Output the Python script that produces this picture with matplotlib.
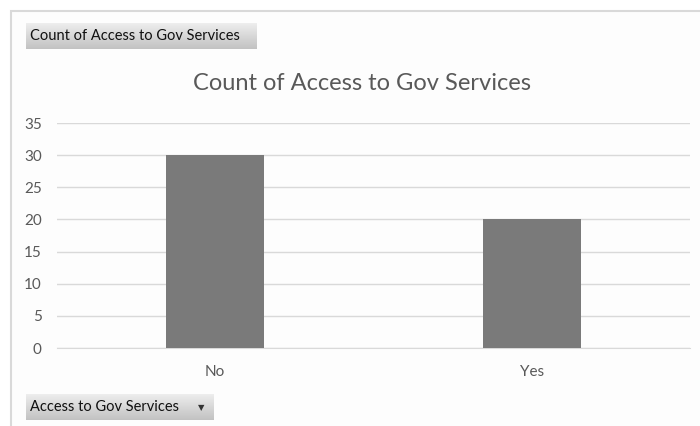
import matplotlib.pyplot as plt
import numpy as np
from matplotlib.patches import Rectangle

categories = ['No', 'Yes']
counts = [30, 20]
yticks = [0, 5, 10, 15, 20, 25, 30, 35]

plt.rcParams['font.family'] = ['Lato', 'DejaVu Sans']

W, H = 700, 426
fig = plt.figure(figsize=(W / 100, H / 100), dpi=100)
fig.patch.set_facecolor('white')


def fx(px):
    return px / W


def fy(py):
    return 1 - py / H


# chart frame
fig.patches.append(Rectangle((fx(11), fy(440)), fx(720), fy(11) - fy(440),
                             transform=fig.transFigure, fill=True, zorder=-5,
                             facecolor='#fdfdfd', edgecolor='#d9d9d9', lw=1.5))

ax = fig.add_axes([fx(57), fy(348), fx(690) - fx(57), fy(123) - fy(348)])
ax.set_facecolor('none')
x = np.arange(len(categories))
ax.bar(x, counts, width=0.31, color='#7a7a7a', zorder=3)
ax.set_xlim(-0.5, len(categories) - 0.5)
ax.set_ylim(0, 35)
ax.set_yticks(yticks)
ax.set_xticks(x)
ax.set_xticklabels(categories)
ax.grid(axis='y', color='#d9d9d9', lw=1, zorder=0)
for s in ax.spines.values():
    s.set_visible(False)
ax.spines['bottom'].set_visible(True)
ax.spines['bottom'].set_color('#d9d9d9')
ax.tick_params(length=0, labelsize=11, colors='#595959')
ax.tick_params(axis='y', pad=11)
ax.tick_params(axis='x', pad=12)

fig.text(fx(362), fy(84), 'Count of Access to Gov Services', ha='center',
         va='center', fontsize=17, color='#595959')


def button(x0, y0, x1, y1, label):
    bax = fig.add_axes([fx(x0), fy(y1), fx(x1) - fx(x0), fy(y0) - fy(y1)])
    grad = np.linspace(0.93, 0.76, 50).reshape(-1, 1)
    bax.imshow(grad, aspect='auto', cmap='gray', vmin=0, vmax=1,
               extent=[0, 1, 0, 1])
    bax.set_axis_off()
    bax.text(4 / (x1 - x0), 0.5, label, ha='left', va='center', fontsize=10.5,
             color='#111111', transform=bax.transAxes)
    return bax


button(26, 23, 257, 49, 'Count of Access to Gov Services')
b = button(26, 394, 214, 420, 'Access to Gov Services')
b.text((201 - 26) / (214 - 26), 0.47, '\u25bc', ha='center', va='center',
       fontsize=6, color='#333333', transform=b.transAxes)

fig.savefig('out.png', dpi=100)
